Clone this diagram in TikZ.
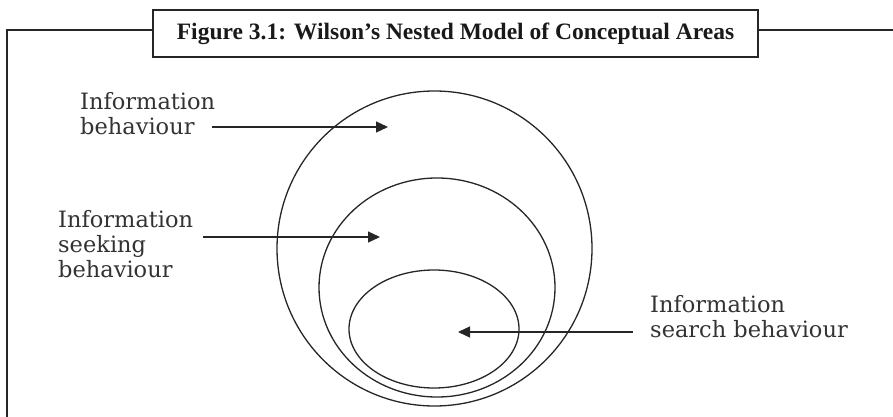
\documentclass[tikz,border=0pt]{standalone}
\usepackage{fontspec}
\setmainfont{DejaVu Serif}
\newfontfamily\titlefont{Liberation Serif}
\usetikzlibrary{arrows.meta}
\begin{document}
\begin{tikzpicture}[x=1pt,y=-1pt,
  frame/.style={line width=2pt, draw=black!85},
  ring/.style={line width=1.3pt, draw=black!85},
  pointer/.style={line width=1.3pt, draw=black!85, -{Triangle[length=12pt,width=11pt]}},
  lbl/.style={font=\fontsize{22.5}{25}\selectfont, align=left, inner sep=0pt, text=black!80, anchor=base west},
]
\useasboundingbox (0,0) rectangle (893,417);
% title box and frame
\node[frame, minimum width=605pt, minimum height=47pt, inner sep=0pt, text=black!90,
      font=\titlefont\bfseries\fontsize{23.5}{26}\selectfont] (title) at (455.5,33.5)
      {Figure 3.1: Wilson’s Nested Model of Conceptual Areas};
\coordinate (fl) at (7,30);
\coordinate (fb) at (7,425);
\coordinate (fr) at (900,30);
\draw[frame] (fb) -- (fl) -- (title.west |- fl);
\draw[frame] (title.east |- fl) -- (fr);
% nested areas
\coordinate (c1) at (434.5,248.5);
\coordinate (c2) at (437,287.5);
\coordinate (c3) at (434,329);
\draw[ring] (c1) ellipse [x radius=157.5, y radius=157.5];
\draw[ring] (c2) ellipse [x radius=118, y radius=109.5];
\draw[ring] (c3) ellipse [x radius=85, y radius=59];
% labels (base anchor = baseline of the last line)
\node[lbl] (l1) at (80,135) {Information\\behaviour};
\node[lbl] (l2) at (58,277) {Information\\seeking\\behaviour};
\node[lbl] (l3) at (650,337) {Information\\search behaviour};
% pointers
\coordinate (s1) at (212,127); \coordinate (t1) at (388,127);
\coordinate (s2) at (203,237); \coordinate (t2) at (380,237);
\coordinate (s3) at (633,332); \coordinate (t3) at (458,332);
\draw[pointer] (s1) -- (t1);
\draw[pointer] (s2) -- (t2);
\draw[pointer] (s3) -- (t3);
\end{tikzpicture}
\end{document}
